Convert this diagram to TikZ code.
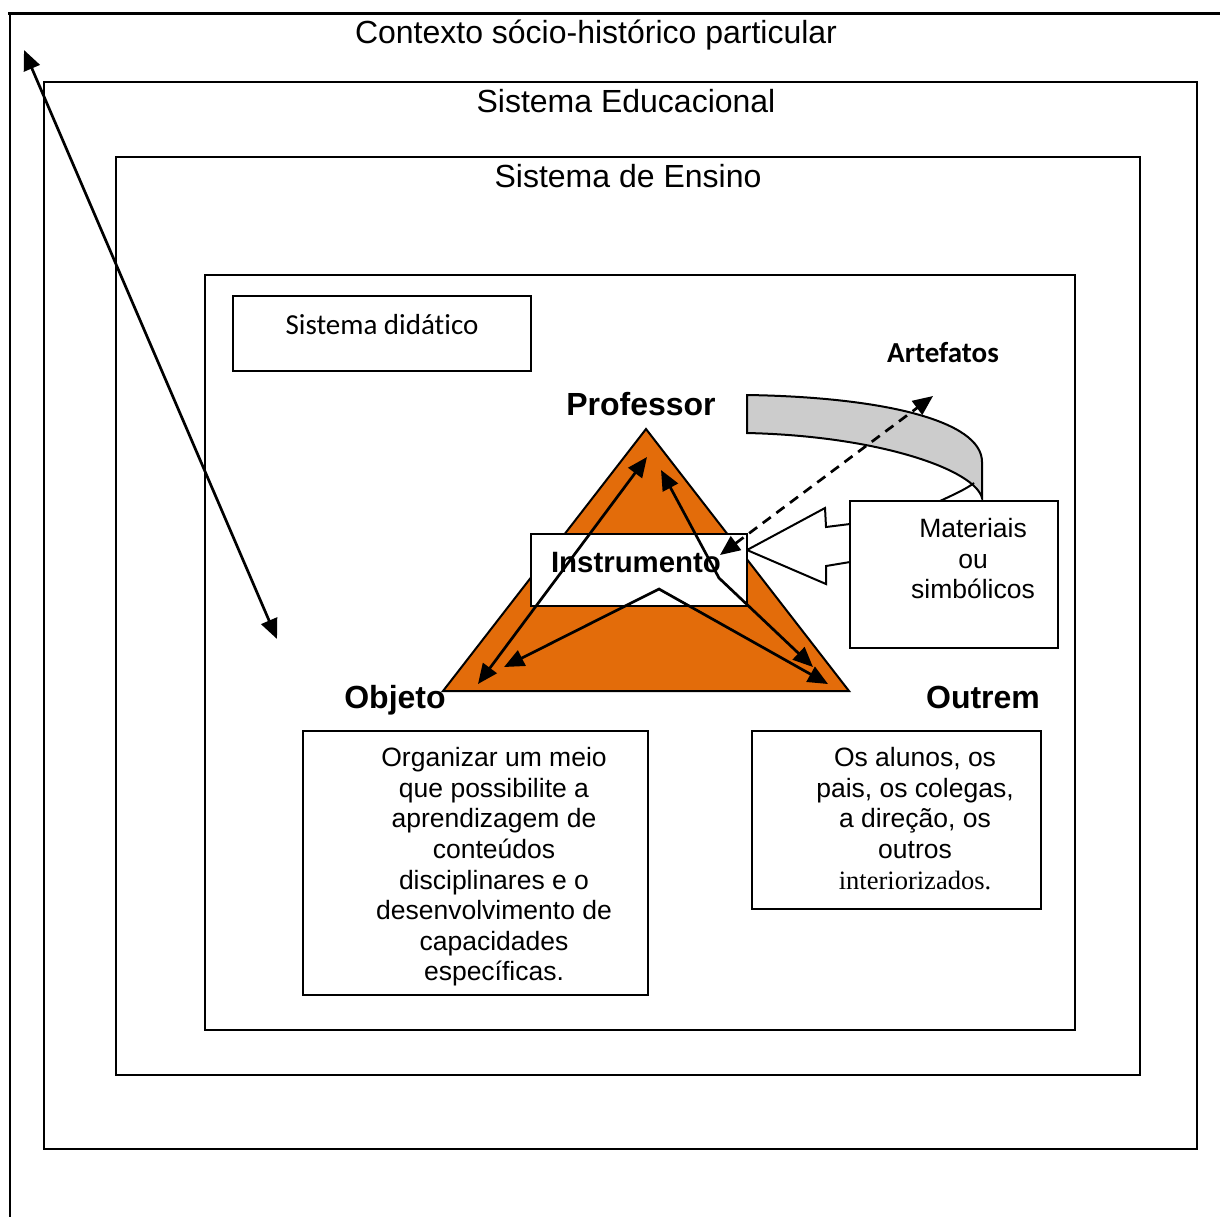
\documentclass[tikz,border=0pt]{standalone}
\usepackage{fontspec}
\setmainfont{Liberation Sans}
\newfontfamily\calib[Ligatures=NoCommon,Contextuals=NoAlternate]{Carlito}
\newfontfamily\tms{Liberation Serif}
\usetikzlibrary{arrows.meta}
\definecolor{orng}{RGB}{227,108,10}
\definecolor{ribgray}{RGB}{204,204,204}
\begin{document}
\begin{tikzpicture}[x=0.5pt,y=-0.5pt,
  frame/.style={line width=1pt},
  big/.style={font=\fontsize{16}{19}\selectfont, inner sep=0},
  lbl/.style={font=\bfseries\fontsize{16}{19}\selectfont, inner sep=0},
  body/.style={font=\fontsize{13.25}{15.3}\selectfont, align=center, inner sep=0},
  >={Triangle[length=10pt,width=8.5pt]},
  arr/.style={line width=1.35pt, <->},
  dsh/.style={dash pattern=on 5pt off 3.5pt}]
\useasboundingbox (0,0) rectangle (1224,1217);
% outer frame
\draw[line width=1.5pt] (8,13) -- (1220,13);
\draw[line width=1.3pt] (10,13) -- (10,1217);
\draw[frame] (44,82) rectangle (1197,1149);
\draw[frame] (116,157) rectangle (1140,1075);
\draw[frame] (205,275) rectangle (1075,1030);
\draw[frame] (233,296) rectangle (531,371);
% titles
\node[big, anchor=base] (ctx) at (596,43) {Contexto sócio-histórico particular};
\node[big, anchor=base] (educ) at (626,112) {Sistema Educacional};
\node[big, anchor=base] (ens) at (628,187) {Sistema de Ensino};
\node[anchor=base, inner sep=0, font=\calib\fontsize{14.5}{17}\selectfont] (did) at (382,334) {Sistema didático};
\node[anchor=base, inner sep=0, font=\calib\bfseries\fontsize{14.5}{17}\selectfont] (art) at (943,362) {Artefatos};
% triangle
\draw[frame, fill=orng] (646,429) -- (849,691) -- (443,691) -- cycle;
% ribbon
\draw[frame, fill=ribgray] (747,395) .. controls (880,397) and (982,420) .. (982,462) -- (982,498) .. controls (975,470) and (880,436) .. (747,433) -- cycle;
\draw[frame] (940,501) .. controls (955,494) and (966,489) .. (974,483);
% callout
\draw[frame, fill=white] (747,550) -- (825,508) -- (826,527) -- (850,524) -- (850,562) -- (826,566) -- (826,584) -- cycle;
\draw[frame, fill=white] (850,501) rectangle (1058,648);
\node[body, anchor=north] (mat) at (973,518) {Materiais\\ou\\simbólicos};
% instrumento
\draw[frame, fill=white] (531,534) rectangle (747,606);
\node[anchor=base, inner sep=0, font=\bfseries\fontsize{14.7}{17}\selectfont] (instr) at (636,572) {Instrumento};
% labels
\node[lbl, anchor=base] (prof) at (641,415) {Professor};
\node[lbl, anchor=base] (obj) at (395,708) {Objeto};
\node[lbl, anchor=base] (out) at (983,708) {Outrem};
% lower boxes
\draw[frame] (303,731) rectangle (648,995);
\node[body, anchor=north] (objtxt) at (494,747) {Organizar um meio\\que possibilite a\\aprendizagem de\\conteúdos\\disciplinares e o\\desenvolvimento de\\capacidades\\específicas.};
\draw[frame] (752,731) rectangle (1041,909);
\node[body, anchor=north] (outtxt) at (915,747) {Os alunos, os\\pais, os colegas,\\a direção, os\\outros\\{\tms interiorizados.}};
% arrow points
\coordinate (pA) at (647,457);
\coordinate (oA) at (478,684);
\coordinate (pB) at (661,470);
\coordinate (bB) at (719,578);
\coordinate (tB) at (813,667);
\coordinate (oC) at (504,667);
\coordinate (bC) at (659,589);
\coordinate (tC) at (828,684);
\coordinate (dI) at (720,555);
\coordinate (dA) at (933,396);
\coordinate (gU) at (24,50);
\coordinate (gL) at (277,639);
\draw[arr] (oA) -- (pA);
\draw[arr] (pB) -- (bB) -- (tB);
\draw[arr] (oC) -- (bC) -- (tC);
\draw[arr, dsh] (dI) -- (dA);
\draw[arr] (gU) -- (gL);
\end{tikzpicture}
\end{document}
